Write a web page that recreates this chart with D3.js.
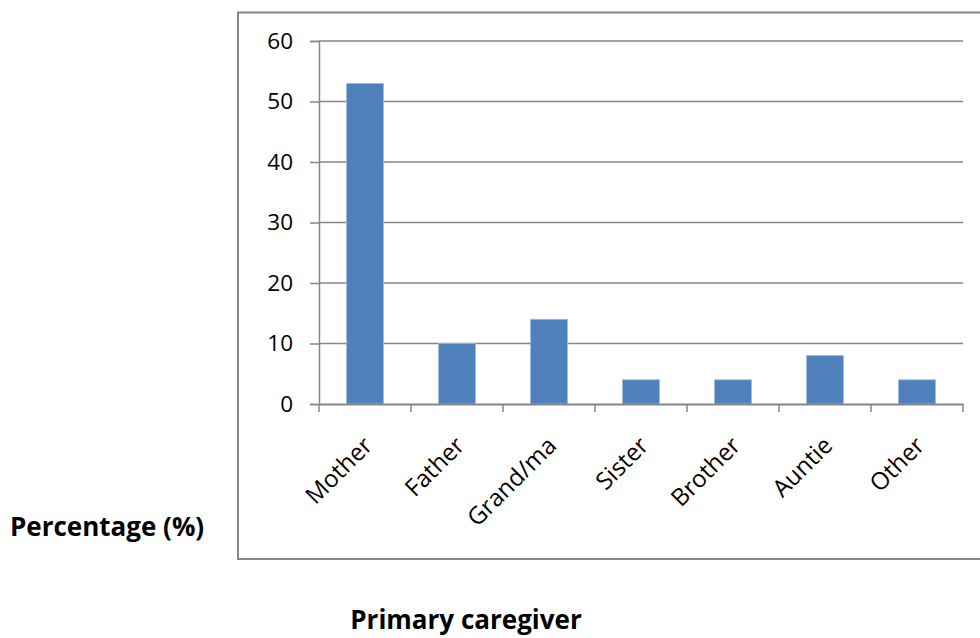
<!DOCTYPE html>
<html><head><meta charset="utf-8">
<script src="https://cdn.jsdelivr.net/npm/d3@7"></script>
<style>body{margin:0;background:#fff}svg{display:block}</style>
</head><body>
<svg id="c" width="980" height="638"></svg>
<script>
const categories = ["Mother","Father","Grand/ma","Sister","Brother","Auntie","Other"];
const values = [53,10,14,4,4,8,4];
const yTicks = [0,10,20,30,40,50,60];
const yTitle = "Percentage (%)";
const xTitle = "Primary caregiver";

const svg = d3.select("#c");
const font = "'Open Sans', sans-serif";
const gray = "#868686";
const L = 319, R = 963, T = 41, B = 404;

// outer frame
svg.append("rect").attr("x",238).attr("y",12.5).attr("width",800).attr("height",546.5)
  .attr("fill","none").attr("stroke",gray).attr("stroke-width",2);

const x = d3.scaleBand().domain(categories).range([L,R]).paddingInner(0.6).paddingOuter(0.3);
const xb = d3.scaleBand().domain(categories).range([L,R]);
const y = d3.scaleLinear().domain([0,60]).range([B,T]);

// gridlines
svg.append("g").selectAll("line").data(yTicks.filter(d=>d>0)).join("line")
  .attr("x1",L).attr("x2",R).attr("y1",d=>y(d)).attr("y2",d=>y(d))
  .attr("stroke",gray).attr("stroke-width",1.5);

// bars
svg.append("g").selectAll("rect").data(values).join("rect")
  .attr("x",(d,i)=>x(categories[i])).attr("width",x.bandwidth())
  .attr("y",d=>y(d)).attr("height",d=>B-y(d))
  .attr("fill","#4F81BD").attr("stroke","#9DB9DE").attr("stroke-width",0.8);

// y axis
const ya = svg.append("g").attr("transform",`translate(${L},0)`)
  .call(d3.axisLeft(y).tickValues(yTicks).tickSize(9).tickPadding(17));
ya.select(".domain").attr("stroke",gray).attr("stroke-width",1.5);
ya.selectAll(".tick line").attr("stroke",gray).attr("stroke-width",1.5);
ya.selectAll(".tick text").attr("font-family",font).attr("font-size",22.5).attr("fill","#000");

// x axis
const xa = svg.append("g").attr("transform",`translate(0,${B})`)
  .call(d3.axisBottom(xb).tickSize(0).tickFormat(""));
xa.select(".domain").attr("stroke",gray).attr("stroke-width",2);
xa.selectAll(".tick").remove();
const edges = d3.range(categories.length+1).map(i=>L + i*xb.step());
xa.selectAll("line.t").data(edges).join("line").attr("class","t")
  .attr("x1",d=>d).attr("x2",d=>d).attr("y1",0).attr("y2",8)
  .attr("stroke",gray).attr("stroke-width",1.5);

// x labels rotated
svg.append("g").selectAll("text").data(categories).join("text")
  .attr("transform",d=>`translate(${xb(d)+xb.bandwidth()/2+9},${B+43}) rotate(-45)`)
  .attr("text-anchor","end").attr("font-family",font).attr("font-size",24).attr("fill","#000")
  .text(d=>d);

// titles
svg.append("text").attr("x",10).attr("y",536).attr("font-family",font).attr("font-weight","bold")
  .attr("font-size",26).text(yTitle);
svg.append("text").attr("x",466).attr("y",629).attr("text-anchor","middle").attr("font-family",font)
  .attr("font-weight","bold").attr("font-size",26).text(xTitle);
</script>
</body></html>
